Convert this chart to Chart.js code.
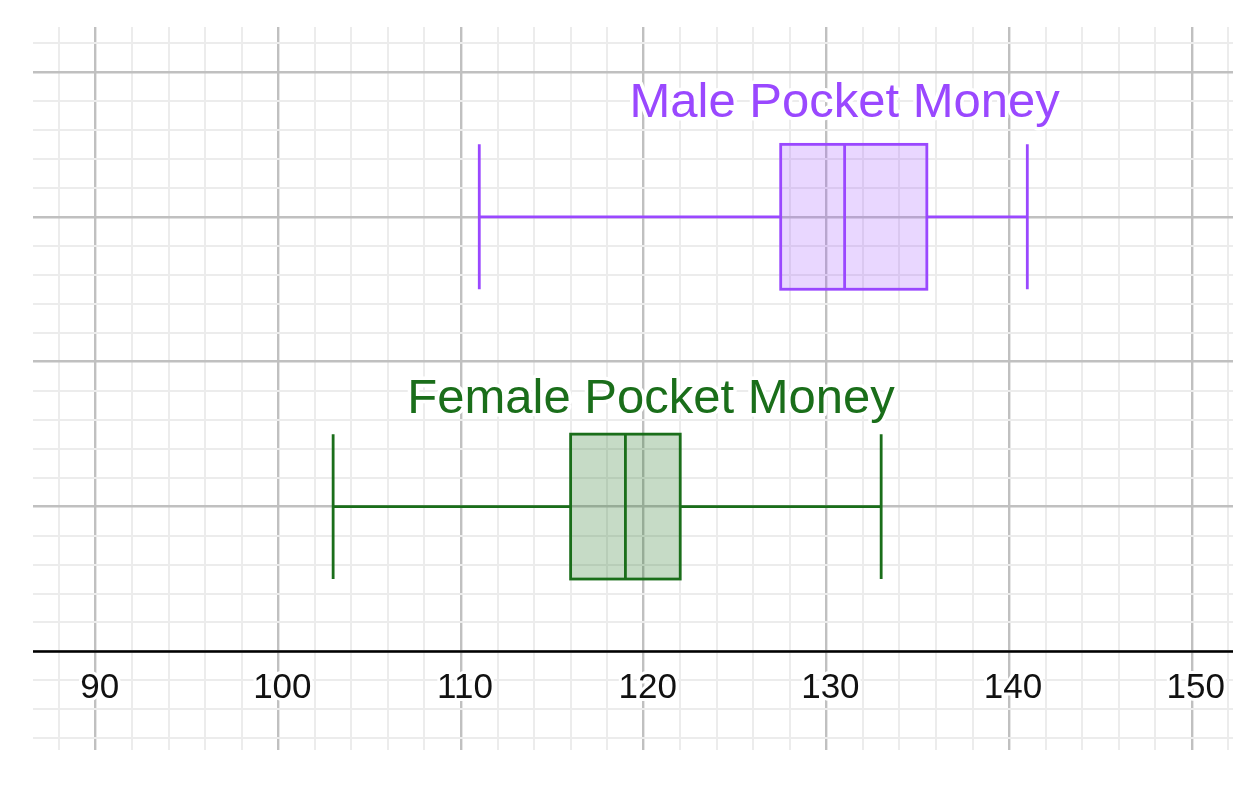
<!DOCTYPE html>
<html>
<head>
<meta charset="utf-8">
<title>Pocket Money</title>
<script src="https://cdn.jsdelivr.net/npm/chart.js@4"></script>
<style>
  body { margin: 0; background: #fff; }
  #wrap { width: 1250px; height: 800px; }
</style>
</head>
<body>
<div id="wrap"><canvas id="chart"></canvas></div>
<script>
// Box plot data (five number summary for each group)
const groups = ['Male Pocket Money', 'Female Pocket Money'];
const rows = [3, 1];           // which row of the grid each box sits on
const mins = [111, 103];
const q1s = [127.5, 116];
const medians = [131, 119];
const q3s = [135.5, 122];
const maxs = [141, 133];

// tick labels along the bottom
const xTickLabels = [90, 100, 110, 120, 130, 140, 150];

const strokeCols = ['#9a48ff', '#1a6e1a'];
const fillCols = ['rgba(157, 75, 255, 0.22)', 'rgba(26, 110, 26, 0.25)'];

// where the group titles go (x value, y value of baseline)
const titleAt = [[131, 3.69], [120.4, 1.645]];

// Draw the boxes, whiskers and caps through the scales
const boxPlugin = {
  id: 'boxes',
  beforeDatasetsDraw(chart) {
    const ctx = chart.ctx;
    const x = chart.scales.x, y = chart.scales.y;
    const half = 0.5;

    ctx.save();
    ctx.lineWidth = 2.8;
    for (let i = 0; i < groups.length; i++) {
      const yc = y.getPixelForValue(rows[i]);
      const yt = y.getPixelForValue(rows[i] + half);
      const yb = y.getPixelForValue(rows[i] - half);
      const xMin = x.getPixelForValue(mins[i]);
      const xQ1 = x.getPixelForValue(q1s[i]);
      const xMed = x.getPixelForValue(medians[i]);
      const xQ3 = x.getPixelForValue(q3s[i]);
      const xMax = x.getPixelForValue(maxs[i]);

      ctx.strokeStyle = strokeCols[i];

      // box
      ctx.fillStyle = fillCols[i];
      ctx.fillRect(xQ1, yt, xQ3 - xQ1, yb - yt);
      ctx.strokeRect(xQ1, yt, xQ3 - xQ1, yb - yt);

      ctx.beginPath();
      // median
      ctx.moveTo(xMed, yt); ctx.lineTo(xMed, yb);
      // whiskers
      ctx.moveTo(xMin, yc); ctx.lineTo(xQ1, yc);
      ctx.moveTo(xQ3, yc); ctx.lineTo(xMax, yc);
      // caps
      ctx.moveTo(xMin, yt); ctx.lineTo(xMin, yb);
      ctx.moveTo(xMax, yt); ctx.lineTo(xMax, yb);
      ctx.stroke();
    }
    ctx.restore();
  },
  afterDraw(chart) {
    const ctx = chart.ctx;
    const x = chart.scales.x, y = chart.scales.y;
    const area = chart.chartArea;
    const y0 = y.getPixelForValue(0);

    ctx.save();
    // axis line at y = 0
    ctx.strokeStyle = '#000';
    ctx.lineWidth = 2.5;
    ctx.beginPath();
    ctx.moveTo(area.left, y0);
    ctx.lineTo(area.right, y0);
    ctx.stroke();

    // tick labels with a white halo
    ctx.font = '35px "Liberation Sans", Arial, sans-serif';
    ctx.textAlign = 'center';
    ctx.textBaseline = 'middle';
    ctx.lineJoin = 'round';
    xTickLabels.forEach(function (v) {
      const px = x.getPixelForValue(v) + 4;
      ctx.strokeStyle = '#fff';
      ctx.lineWidth = 6;
      ctx.strokeText(String(v), px, y0 + 37);
      ctx.fillStyle = '#111';
      ctx.fillText(String(v), px, y0 + 37);
    });

    // group titles
    ctx.font = '49px "Liberation Sans", Arial, sans-serif';
    ctx.textBaseline = 'alphabetic';
    for (let i = 0; i < groups.length; i++) {
      const px = x.getPixelForValue(titleAt[i][0]);
      const py = y.getPixelForValue(titleAt[i][1]);
      ctx.strokeStyle = '#fff';
      ctx.lineWidth = 7;
      ctx.strokeText(groups[i], px, py);
      ctx.fillStyle = strokeCols[i];
      ctx.fillText(groups[i], px, py);
    }
    ctx.restore();
  }
};

function evenTicks(scale, from, to, step) {
  const ticks = [];
  for (let v = from; v <= to + 1e-9; v += step) {
    ticks.push({ value: Math.round(v * 100) / 100 });
  }
  scale.ticks = ticks;
}

const ctx = document.getElementById('chart');

const boxChart = new Chart(ctx, {
  type: 'scatter',
  data: { datasets: [] },
  options: {
    responsive: true,
    maintainAspectRatio: false,
    animation: false,
    layout: { padding: { left: 33, right: 17, top: 27, bottom: 50 } },
    plugins: { legend: { display: false }, tooltip: { enabled: false } },
    scales: {
      x: {
        type: 'linear',
        min: 86.57,
        max: 152.26,
        afterBuildTicks: function (s) { evenTicks(s, 88, 152, 2); },
        ticks: { display: false },
        border: { display: false },
        grid: {
          drawTicks: false,
          color: function (c) { return c.tick && c.tick.value % 10 === 0 ? '#c0c0c0' : '#ececec'; },
          lineWidth: function (c) { return c.tick && c.tick.value % 10 === 0 ? 2.4 : 2; }
        }
      },
      y: {
        type: 'linear',
        min: -0.68,
        max: 4.31,
        afterBuildTicks: function (s) { evenTicks(s, -0.6, 4.2, 0.2); },
        ticks: { display: false },
        border: { display: false },
        grid: {
          drawTicks: false,
          color: function (c) { return c.tick && Math.abs(c.tick.value - Math.round(c.tick.value)) < 1e-6 ? '#c0c0c0' : '#ececec'; },
          lineWidth: function (c) { return c.tick && Math.abs(c.tick.value - Math.round(c.tick.value)) < 1e-6 ? 2.4 : 2; }
        }
      }
    }
  },
  plugins: [boxPlugin]
});
</script>
</body>
</html>
